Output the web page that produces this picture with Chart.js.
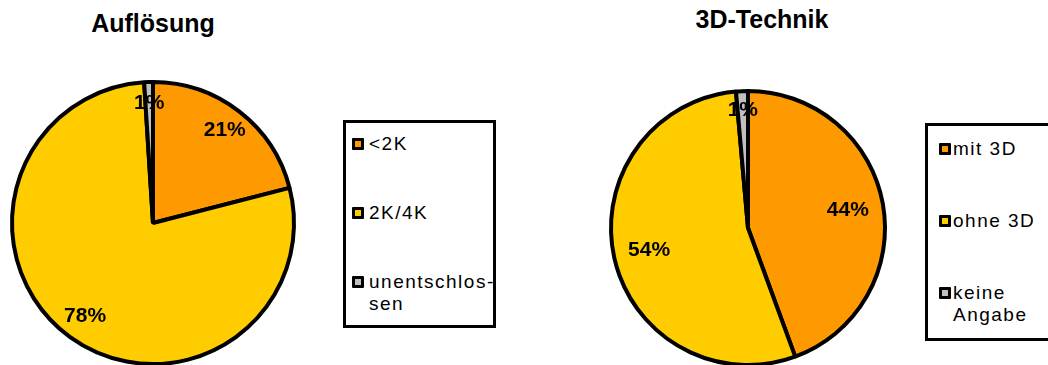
<!DOCTYPE html>
<html>
<head>
<meta charset="utf-8">
<script src="https://cdn.jsdelivr.net/npm/chart.js@4.4.1/dist/chart.umd.min.js"></script>
<style>
  body { margin: 0; width: 1048px; height: 365px; overflow: hidden; background: #fff; position: relative;
         font-family: "Liberation Sans", Arial, sans-serif; }
  .wrap { position: absolute; top: 0; height: 370px; }
  .titel { position: absolute; width: 300px; text-align: center; font-weight: bold; font-size: 25px; line-height: 30px; color: #000; }
  .legende { position: absolute; border: 3px solid #000; background: #fff; font-size: 19px; line-height: 22px;
             letter-spacing: 1.5px; color: #000; box-sizing: border-box; }
  .eintrag { position: relative; }
  .kasten { position: absolute; top: 5px; width: 12px; height: 12px; border: 3px solid #000; box-sizing: border-box; border-radius: 1px; }
</style>
</head>
<body>
<div class="titel" style="left:3px;top:8px">Auflösung</div>
<div class="titel" style="left:612px;top:4px">3D-Technik</div>

<div class="wrap" style="left:0;width:520px"><canvas id="aufloesung"></canvas></div>
<div class="wrap" style="left:520px;width:528px"><canvas id="technik"></canvas></div>

<div class="legende" id="legende1" style="left:343px;top:120px;width:153px;height:208px"></div>
<div class="legende" id="legende2" style="left:925px;top:123px;width:140px;height:218px"></div>

<script>
const farben = ['#FF9900', '#FFCC00', '#C0C0C0']

const aufloesungLabels = ['<2K', '2K/4K', ['unentschlos-', 'sen']]
const aufloesungWerte = [21, 78, 1]

const technikLabels = ['mit 3D', 'ohne 3D', ['keine', 'Angabe']]
const technikWerte = [44.4, 54.2, 1.4]

// Prozentzahlen in die Tortenstuecke schreiben
const prozentPlugin = {
  id: 'prozente',
  afterDatasetsDraw(chart, args, opts) {
    const ctx = chart.ctx
    const meta = chart.getDatasetMeta(0)
    const werte = chart.data.datasets[0].data
    ctx.save()
    ctx.font = 'bold 21px "Liberation Sans", Arial, sans-serif'
    ctx.fillStyle = '#000'
    ctx.textAlign = 'center'
    ctx.textBaseline = 'middle'
    meta.data.forEach((arc, i) => {
      const p = arc.getProps(['x', 'y', 'startAngle', 'endAngle', 'outerRadius'], true)
      const winkel = (p.startAngle + p.endAngle) / 2
      const r = p.outerRadius * opts.faktor[i]
      ctx.fillText(Math.round(werte[i]) + '%', p.x + Math.cos(winkel) * r, p.y + Math.sin(winkel) * r)
    })
    ctx.restore()
  }
}

const macheTorte = (id, labels, werte, radius, padding, faktor) => {
  return new Chart(document.getElementById(id), {
    type: 'pie',
    data: {
      labels: labels,
      datasets: [{
        data: werte,
        backgroundColor: farben,
        borderColor: '#000',
        borderWidth: 4
      }]
    },
    options: {
      responsive: true,
      maintainAspectRatio: false,
      animation: false,
      radius: radius,
      layout: { padding: padding },
      plugins: {
        legend: { display: false },
        title: { display: false },
        tooltip: { enabled: false },
        prozente: { faktor: faktor }
      }
    },
    plugins: [prozentPlugin]
  })
}

const legendeBauen = (id, labels, einstellungen) => {
  const box = document.getElementById(id)
  box.style.paddingTop = einstellungen.oben + 'px'
  labels.forEach((label, i) => {
    const zeilen = Array.isArray(label) ? label : [label]
    const eintrag = document.createElement('div')
    eintrag.className = 'eintrag'
    eintrag.style.paddingLeft = einstellungen.text + 'px'
    if (i > 0) eintrag.style.marginTop = einstellungen.abstand + 'px'
    const kasten = document.createElement('span')
    kasten.className = 'kasten'
    kasten.style.left = einstellungen.kasten + 'px'
    kasten.style.background = farben[i]
    eintrag.appendChild(kasten)
    zeilen.forEach((z) => {
      const zeile = document.createElement('div')
      zeile.textContent = z
      eintrag.appendChild(zeile)
    })
    box.appendChild(eintrag)
  })
}

macheTorte('aufloesung', aufloesungLabels, aufloesungWerte, 141, { top: 76, bottom: 0, left: 0, right: 214 }, [0.83, 0.82, 0.85])
macheTorte('technik', technikLabels, technikWerte, 137, { top: 86, bottom: 0, left: 0, right: 72 }, [0.74, 0.74, 0.86])

legendeBauen('legende1', aufloesungLabels, { oben: 10, abstand: 47, kasten: 6, text: 23 })
legendeBauen('legende2', technikLabels, { oben: 12, abstand: 50, kasten: 11, text: 25 })
</script>
</body>
</html>
